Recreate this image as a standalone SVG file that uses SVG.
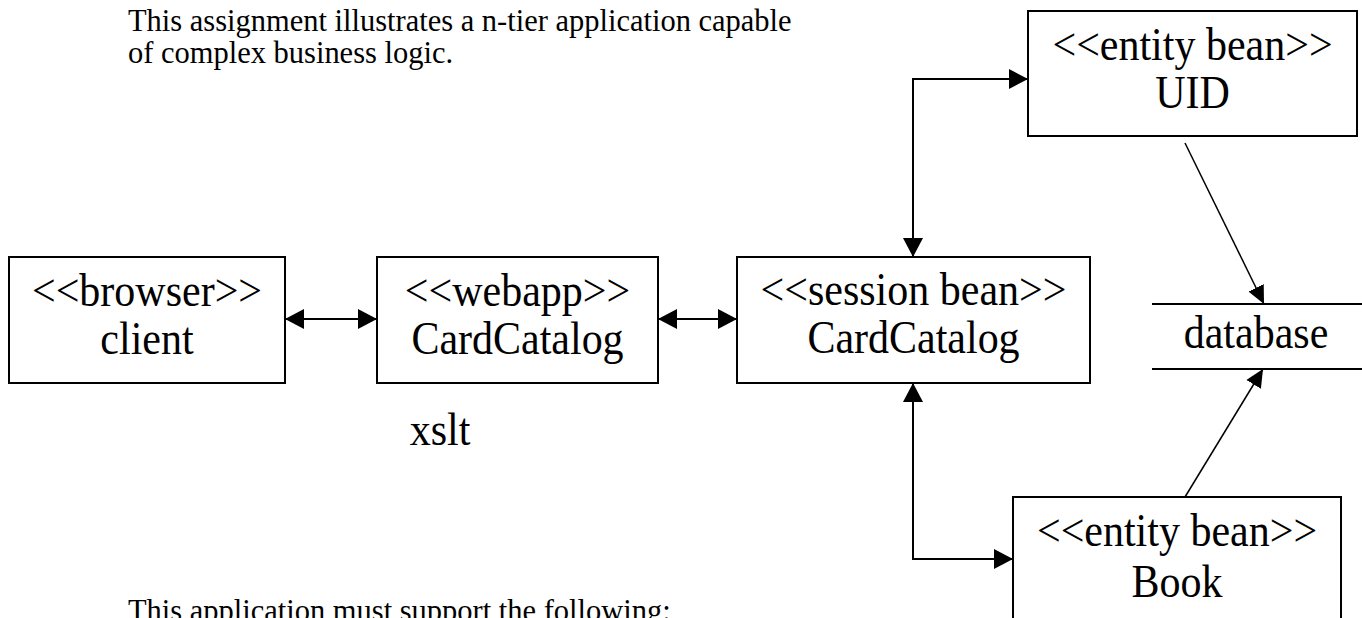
<svg xmlns="http://www.w3.org/2000/svg" width="1362" height="618" viewBox="0 0 1362 618">
<defs>
<style>
.box{fill:#fff;stroke:#000;stroke-width:2}
.t{font-family:"Liberation Serif","Times New Roman",serif;font-size:42px;fill:#000;text-anchor:middle}
.p{font-family:"Liberation Serif","Times New Roman",serif;font-size:30.5px;fill:#000}
.c{fill:none;stroke:#000;stroke-width:2}
.d{fill:none;stroke:#000;stroke-width:1.5}
</style>
<marker id="ah" markerUnits="userSpaceOnUse" markerWidth="20" markerHeight="20" viewBox="0 0 19 20" refX="19" refY="10" orient="auto-start-reverse">
<path d="M0,0 L19,10 L0,20 z" fill="#000"/>
</marker>
<marker id="ah2" markerUnits="userSpaceOnUse" markerWidth="18" markerHeight="18" viewBox="0 0 19 18" refX="19" refY="9" orient="auto">
<path d="M0,0 L19,9 L0,18 z" fill="#000"/>
</marker>
</defs>
<rect width="1362" height="618" fill="#fff"/>
<text class="p" transform="translate(128,31) scale(1,1.06)">This assignment illustrates a n-tier application capable</text>
<text class="p" transform="translate(128,63) scale(1,1.06)">of complex business logic.</text>
<text class="p" transform="translate(128,621) scale(1,1.06)">This application must support the following:</text>
<text class="t" transform="translate(440,445) scale(1,1.08)">xslt</text>
<g id="connectors">
<line class="c" x1="285" y1="319" x2="377" y2="319" marker-start="url(#ah)" marker-end="url(#ah)"/>
<line class="c" x1="658" y1="319" x2="737" y2="319" marker-start="url(#ah)" marker-end="url(#ah)"/>
<polyline class="c" points="913,257 913,79 1028,79" marker-start="url(#ah)" marker-end="url(#ah)"/>
<polyline class="c" points="913,383 913,559 1013,559" marker-start="url(#ah)" marker-end="url(#ah)"/>
<line class="d" x1="1185" y1="143" x2="1264" y2="304" marker-end="url(#ah2)"/>
<line class="d" x1="1185" y1="497" x2="1263" y2="369" marker-end="url(#ah2)"/>
</g>
<g id="browser">
<rect class="box" x="9" y="257" width="276" height="126"/>
<text class="t" transform="translate(147,306) scale(1,1.08)">&lt;&lt;browser&gt;&gt;</text>
<text class="t" transform="translate(147,354) scale(1,1.08)">client</text>
</g>
<g id="webapp">
<rect class="box" x="377" y="257" width="281" height="126"/>
<text class="t" transform="translate(517.5,306) scale(1,1.08)">&lt;&lt;webapp&gt;&gt;</text>
<text class="t" transform="translate(517.5,354) scale(1,1.08)">CardCatalog</text>
</g>
<g id="session">
<rect class="box" x="737" y="257" width="353" height="126"/>
<text class="t" transform="translate(913.5,305) scale(1,1.08)">&lt;&lt;session bean&gt;&gt;</text>
<text class="t" transform="translate(913.5,353) scale(1,1.08)">CardCatalog</text>
</g>
<g id="uid">
<rect class="box" x="1028" y="11" width="329" height="125"/>
<text class="t" transform="translate(1192.5,60) scale(1,1.08)">&lt;&lt;entity bean&gt;&gt;</text>
<text class="t" transform="translate(1192.5,108) scale(1,1.08)">UID</text>
</g>
<g id="database">
<line class="c" x1="1152" y1="304" x2="1362" y2="304"/>
<line class="c" x1="1152" y1="369" x2="1362" y2="369"/>
<text class="t" transform="translate(1256,348) scale(1,1.08)">database</text>
</g>
<g id="book">
<rect class="box" x="1013" y="497" width="328" height="140"/>
<text class="t" transform="translate(1177,546) scale(1,1.08)">&lt;&lt;entity bean&gt;&gt;</text>
<text class="t" transform="translate(1177,597) scale(1,1.08)">Book</text>
</g>
</svg>
